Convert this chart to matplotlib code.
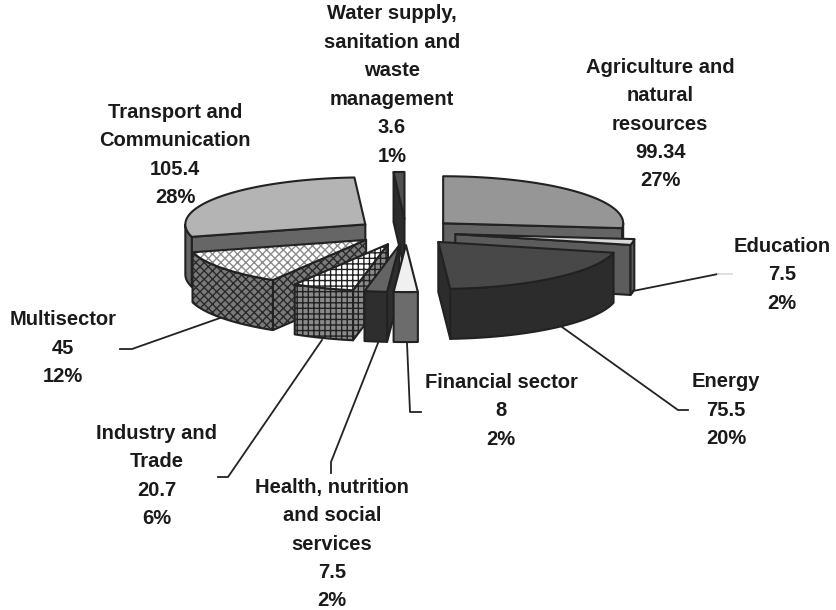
#!/usr/bin/env python3

import numpy as np
import matplotlib
matplotlib.use("Agg")
import matplotlib.pyplot as plt
from matplotlib.patches import Polygon

plt.rcParams['font.family'] = ['Liberation Sans', 'DejaVu Sans']
plt.rcParams['hatch.linewidth'] = 1.0

# Data, clockwise from 12 o'clock
sectors = ["Agriculture and\nnatural\nresources", "Education", "Energy",
           "Financial sector", "Health, nutrition\nand social\nservices",
           "Industry and\nTrade", "Multisector", "Transport and\nCommunication",
           "Water supply,\nsanitation and\nwaste\nmanagement"]
values = [99.34, 7.5, 75.5, 8, 7.5, 20.7, 45, 105.4, 3.6]
percents = [27, 2, 20, 2, 2, 6, 12, 28, 1]

# style per sector: top colour, side colour, top hatch, side hatch
top_colors = ['#969696', '#d8d8d8', '#484848', '#f0f0f0', '#646464', 'white', 'white', '#b4b4b4', '#505050']
side_colors = ['#646464', '#5c5c5c', '#2c2c2c', '#6c6c6c', '#2e2e2e', '#8a8a8a', '#7a7a7a', '#666666', '#2c2c2c']
top_hatch = [None, None, None, None, None, '+++', 'xxxx', None, None]
side_hatch = [None, None, None, None, None, '+++', 'xxxx', None, None]
hatch_colors = [None, None, None, None, None, '#222222', '#8c8c8c', None, None]
side_hatch_colors = [None, None, None, None, None, '#222222', '#2a2a2a', None, None]

# draw order back to front
draw_order = [8, 0, 1, 2, 7, 6, 5, 4, 3]

# label centres and leader lines, in pixels
label_pos = [(660, 124), (782, 275), (726, 410), (501, 411), (332, 544),
             (157, 476), (63, 348), (175, 155), (392, 85)]
leaders = {
    1: [(633, 291), (718, 274)],
    2: [(562, 327), (678, 410), (688, 410)],
    3: [(407, 343), (410, 412), (421, 412)],
    4: [(378, 343), (331, 462), (331, 473)],
    5: [(322, 340), (228, 477), (218, 477)],
    6: [(220, 318), (132, 349), (120, 349)],
}

CX, CY = 406, 232
RX, RY = 180, 47
EXPLODE = 50
DEPTH = 50
EDGE = '#222222'


def rim(cx, cy, angles):
    a = np.radians(angles)
    return np.column_stack([cx + RX * np.sin(a), cy - RY * np.cos(a)])


def face(ax, pts, color, hatch=None, hatch_color=None):
    if hatch:
        ax.add_patch(Polygon(pts, facecolor=color, edgecolor=hatch_color, hatch=hatch, linewidth=0))
    else:
        ax.add_patch(Polygon(pts, facecolor=color, edgecolor='none'))
    ax.add_patch(Polygon(pts, fill=False, edgecolor=EDGE, linewidth=1.5, joinstyle='round'))


fig, ax = plt.subplots(figsize=(8.36, 6.10), dpi=100)
ax.set_position([0, 0, 1, 1])
ax.set_xlim(0, 836)
ax.set_ylim(610, 0)
ax.axis('off')

edges = np.concatenate([[0], np.cumsum(values)]) / np.sum(values) * 360
down = np.array([0, DEPTH])

for i in draw_order:
    start, end = edges[i], edges[i + 1]
    mid = np.radians((start + end) / 2)
    cx = CX + EXPLODE * np.sin(mid)
    cy = CY - EXPLODE * RY / RX * np.cos(mid)
    apex = np.array([cx, cy])
    sh = (side_colors[i], side_hatch[i], side_hatch_colors[i])

    # radial walls that face the viewer
    for ang, visible in [(start, np.sin(np.radians(start)) < -1e-6),
                         (end, np.sin(np.radians(end)) > 1e-6)]:
        if visible:
            p = rim(cx, cy, [ang])[0]
            face(ax, [apex, p, p + down, apex + down], *sh)

    # outer wall, front half only
    lo, hi = max(start, 90), min(end, 270)
    if hi > lo:
        arc = rim(cx, cy, np.linspace(lo, hi, 40))
        face(ax, np.vstack([arc, (arc + down)[::-1]]), *sh)

    # top
    arc = rim(cx, cy, np.linspace(start, end, 60))
    face(ax, np.vstack([apex, arc]), top_colors[i], top_hatch[i], hatch_colors[i])

for i, pts in leaders.items():
    xs, ys = zip(*pts)
    ax.plot(xs, ys, color='#222222', linewidth=1.3, zorder=5)
# the Education leader fades out towards its label
ax.plot([718, 732], [274, 274], color='#dddddd', linewidth=1.3, zorder=5)

for name, v, pct, (x, y) in zip(sectors, values, percents, label_pos):
    ax.text(x, y, f"{name}\n{v}\n{pct}%", ha='center', va='center', multialignment='center',
            fontsize=14.5, fontweight='bold', color='#1a1a1a', linespacing=1.63, zorder=6)

fig.savefig("out.png", dpi=100, facecolor='white')
